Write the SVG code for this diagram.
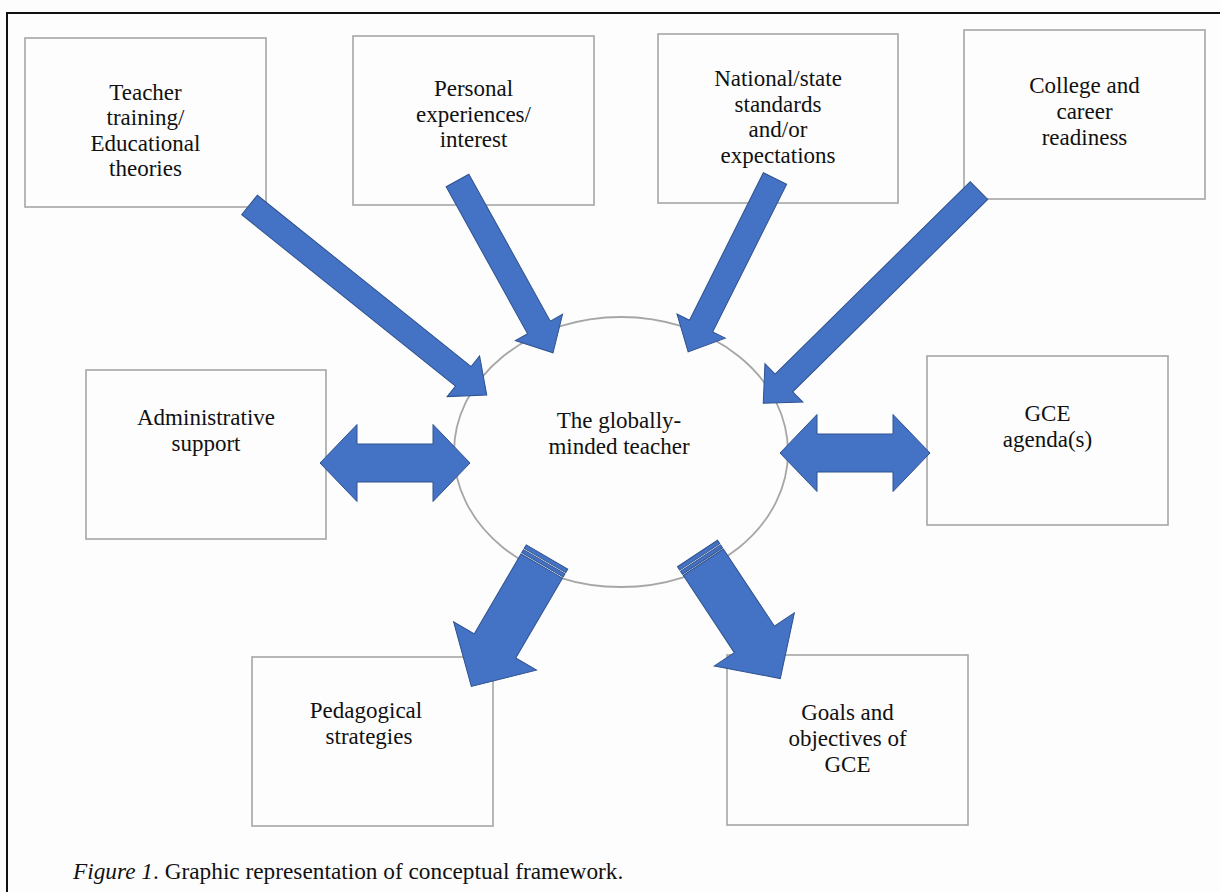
<svg xmlns="http://www.w3.org/2000/svg" width="1220" height="892" viewBox="0 0 1220 892">
<style>
.box{fill:none;stroke:#a6a6a6;stroke-width:1.6}
.lbl{font-family:"Liberation Serif","Times New Roman",serif;font-size:23px;fill:#111;text-anchor:middle}
.arr{fill:#4472c4;stroke:#2f528f;stroke-width:1}
.cap{font-family:"Liberation Serif","Times New Roman",serif;font-size:23.3px;fill:#111}
</style>
<rect width="1220" height="892" fill="#fdfdfd"/>
<path d="M7,892 V13 H1220" fill="none" stroke="#111" stroke-width="2"/>

<g id="center">
<ellipse cx="621" cy="452" rx="167" ry="135" fill="none" stroke="#a6a6a6" stroke-width="1.8"/>
<text class="lbl" x="619" y="428">The globally-</text>
<text class="lbl" x="619" y="454">minded teacher</text>
</g>

<g id="n-teacher-training">
<rect class="box" x="25" y="38" width="241" height="169"/>
<text class="lbl" x="145.5" y="100">Teacher</text>
<text class="lbl" x="145.5" y="125.3">training/</text>
<text class="lbl" x="145.5" y="150.6">Educational</text>
<text class="lbl" x="145.5" y="176">theories</text>
</g>
<g id="n-personal">
<rect class="box" x="353" y="36" width="241" height="169"/>
<text class="lbl" x="473.5" y="96">Personal</text>
<text class="lbl" x="473.5" y="121.5">experiences/</text>
<text class="lbl" x="473.5" y="147">interest</text>
</g>
<g id="n-standards">
<rect class="box" x="658" y="34" width="240" height="169"/>
<text class="lbl" x="778" y="86">National/state</text>
<text class="lbl" x="778" y="111.5">standards</text>
<text class="lbl" x="778" y="137">and/or</text>
<text class="lbl" x="778" y="163">expectations</text>
</g>
<g id="n-college">
<rect class="box" x="964" y="30" width="241" height="169"/>
<text class="lbl" x="1084.5" y="93">College and</text>
<text class="lbl" x="1084.5" y="119">career</text>
<text class="lbl" x="1084.5" y="145">readiness</text>
</g>
<g id="n-admin">
<rect class="box" x="86" y="370" width="240" height="169"/>
<text class="lbl" x="206" y="425">Administrative</text>
<text class="lbl" x="206" y="451">support</text>
</g>
<g id="n-gce-agenda">
<rect class="box" x="927" y="356" width="241" height="169"/>
<text class="lbl" x="1047.5" y="421">GCE</text>
<text class="lbl" x="1047.5" y="447">agenda(s)</text>
</g>
<g id="n-pedagogical">
<rect class="box" x="252" y="657" width="241" height="169"/>
<text class="lbl" x="366" y="718">Pedagogical</text>
<text class="lbl" x="369" y="744">strategies</text>
</g>
<g id="n-goals">
<rect class="box" x="727" y="655" width="241" height="170"/>
<text class="lbl" x="847.5" y="720">Goals and</text>
<text class="lbl" x="847.5" y="746">objectives of</text>
<text class="lbl" x="847.5" y="772">GCE</text>
</g>

<g id="connectors">
<polygon class="arr" transform="translate(249.5,205) rotate(38.7)" points="0,-12.5 274,-12.5 274,-26 304,0 274,26 274,12.5 0,12.5"/>
<polygon class="arr" transform="translate(457.5,180.5) rotate(61)" points="0,-13 168,-13 168,-27 197,0 168,27 168,13 0,13"/>
<polygon class="arr" transform="translate(775,178.5) rotate(116.6)" points="0,-13 165,-13 165,-27 194,0 165,27 165,13 0,13"/>
<polygon class="arr" transform="translate(979,190.5) rotate(135.4)" points="0,-12.5 274,-12.5 274,-27 303,0 274,27 274,12.5 0,12.5"/>
<polygon class="arr" points="320,463 357,424.5 357,444 433,444 433,424.5 470,463 433,501.5 433,482 357,482 357,501.5"/>
<polygon class="arr" points="780,453 817,414.5 817,434 893,434 893,414.5 930,453 893,491.5 893,472 817,472 817,491.5"/>
<g class="arr" transform="translate(547,557) rotate(120.3)">
<rect x="0" y="-24" width="4" height="48"/>
<rect x="5.5" y="-24" width="3.5" height="48"/>
<polygon points="10.5,-24 103,-24 103,-48 150,0 103,48 103,24 10.5,24"/>
</g>
<g class="arr" transform="translate(697.5,553.5) rotate(56.5)">
<rect x="0" y="-24" width="4" height="48"/>
<rect x="5.5" y="-24" width="3.5" height="48"/>
<polygon points="10.5,-24 103,-24 103,-48 150,0 103,48 103,24 10.5,24"/>
</g>
</g>

<text class="cap" x="73" y="879"><tspan font-style="italic">Figure 1</tspan>. Graphic representation of conceptual framework.</text>
</svg>
